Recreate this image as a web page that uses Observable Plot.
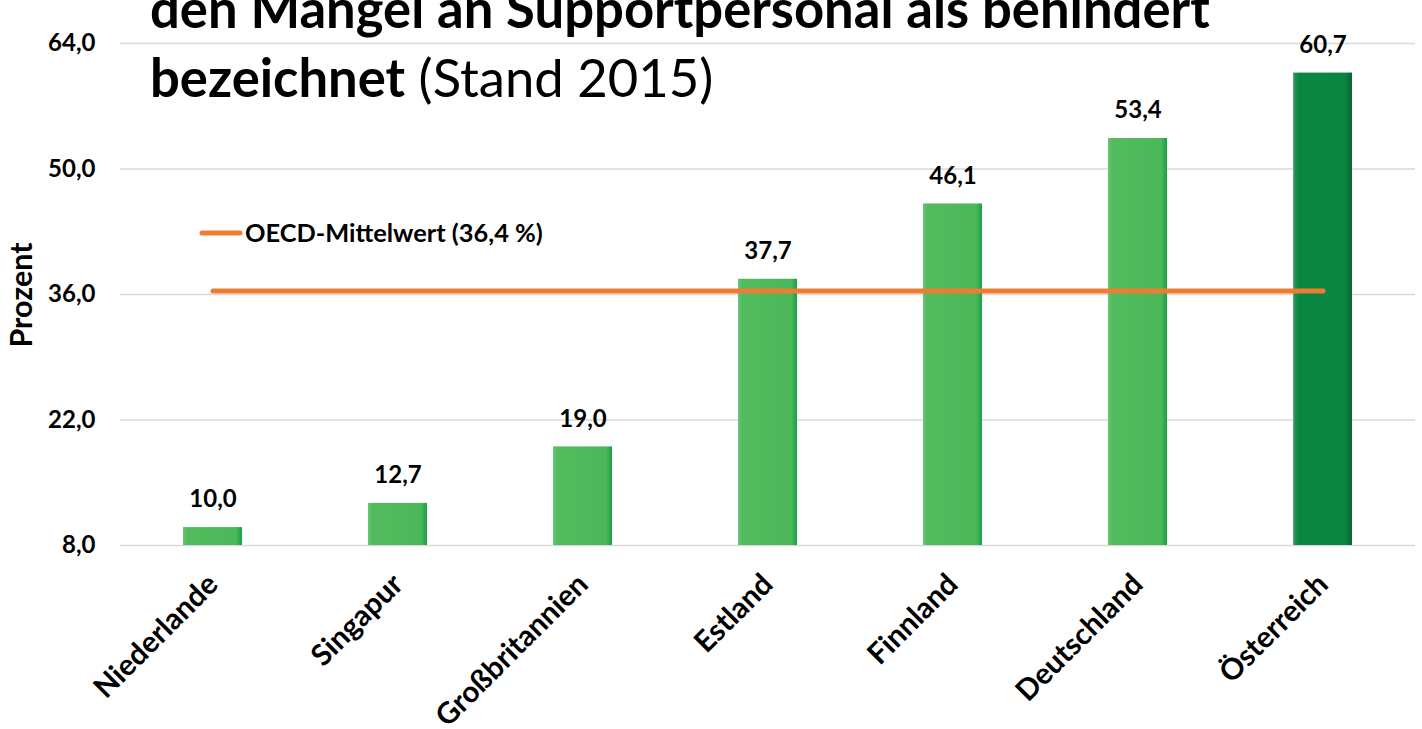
<!DOCTYPE html>
<html><head><meta charset="utf-8">
<script src="https://cdn.jsdelivr.net/npm/d3@7"></script>
<script src="https://cdn.jsdelivr.net/npm/@observablehq/plot@0.6"></script>
<style>
body{margin:0;background:#fff;}
#chart{position:relative;width:1422px;height:729px;overflow:hidden;}
</style></head><body><div id="chart"></div>
<script>
const countries = ["Niederlande","Singapur","Großbritannien","Estland","Finnland","Deutschland","Österreich"];
const values = [10.0, 12.7, 19.0, 37.7, 46.1, 53.4, 60.7];
const highlight = "Österreich";
const oecdMean = 36.4;
const yTicks = [8, 22, 36, 50, 64];
const titleBold1 = "den Mangel an Supportpersonal als behindert";
const titleBold2 = "bezeichnet";
const titleNormal2 = " (Stand 2015)";
const legendLabel = "OECD-Mittelwert (36,4 %)";
const yLabel = "Prozent";

const data = countries.map((c, i) => ({country: c, value: values[i]}));
const fmt = d => d.toFixed(1).replace(".", ",");
const FONT = "Lato, 'Open Sans', sans-serif";

const canvas = document.createElement("canvas");
const ctx = canvas.getContext("2d");
function measure(txt, weight, size) { ctx.font = `${weight} ${size}px Lato`; return ctx.measureText(txt).width; }
function fit(txt, weight, target) { return 100 * target / measure(txt, weight, 100); }

const chart = Plot.plot({
  width: 1422, height: 729,
  marginLeft: 120, marginRight: 7, marginTop: 43, marginBottom: 184,
  style: {fontFamily: FONT, background: "#fff", overflow: "visible", color: "#000"},
  x: {domain: countries, paddingInner: 0.68, paddingOuter: 0.34, label: null},
  y: {domain: [8, 64], ticks: yTicks, label: null},
  marks: [
    Plot.gridY(yTicks, {stroke: "#d9d9d9", strokeOpacity: 1, strokeWidth: 1.3}),
    Plot.barY(data.filter(d => d.country !== highlight), {x: "country", y1: 8, y2: "value", fill: "url(#gLight)"}),
    Plot.barY(data.filter(d => d.country === highlight), {x: "country", y1: 8, y2: "value", fill: "url(#gDark)"}),
    Plot.lineY(countries, {x: d => d, y: () => oecdMean, stroke: "#ed7d31", strokeWidth: 5, strokeLinecap: "round"}),
    Plot.text(data, {x: "country", y: "value", text: d => fmt(d.value), dy: -28, fontSize: 24, fontWeight: "bold", fill: "#000"}),
    Plot.axisY(yTicks, {tickSize: 0, tickPadding: 25, tickFormat: fmt, fontSize: 24, fontWeight: "bold", label: null}),
    Plot.axisX({tickRotate: -45, tickSize: 0, tickPadding: 34, fontSize: 29.5, fontWeight: "bold", label: null})
  ]
});

document.getElementById("chart").appendChild(chart);
const svg = d3.select(chart);
svg.selectAll('g[aria-label="x-axis tick label"] text, g[aria-label="y-axis tick label"] text').attr("font-weight", "bold");

const defs = svg.insert("defs", ":first-child");
function grad(id, stops) {
  const g = defs.append("linearGradient").attr("id", id).attr("x1", 0).attr("x2", 1).attr("y1", 0).attr("y2", 0);
  stops.forEach(([o, c]) => g.append("stop").attr("offset", o).attr("stop-color", c));
}
grad("gLight", [[0, "#6ac673"], [0.07, "#52bb5e"], [0.9, "#4cb85a"], [1, "#1a9f47"]]);
grad("gDark", [[0, "#8a9a90"], [0.03, "#149a4e"], [0.1, "#0b8642"], [0.88, "#0b8442"], [1, "#066530"]]);

const overlay = svg.append("g").attr("text-anchor", "start").attr("font-family", FONT).attr("fill", "#000");

// title (overlaps chart top, first line cut like the reference)
const tSize = fit(titleBold1, "bold", 1060);
overlay.append("text").attr("x", 150).attr("y", 28)
  .attr("font-size", tSize).attr("font-weight", "bold").text(titleBold1);
const t2 = overlay.append("text").attr("x", 150).attr("y", 97).attr("font-size", tSize);
t2.append("tspan").attr("font-weight", "bold").text(titleBold2);
t2.append("tspan").attr("font-weight", "normal").text(titleNormal2);

// legend
overlay.append("line").attr("x1", 202).attr("x2", 240).attr("y1", 233).attr("y2", 233)
  .attr("stroke", "#ed7d31").attr("stroke-width", 5).attr("stroke-linecap", "round");
overlay.append("text").attr("x", 245).attr("y", 242)
  .attr("font-size", fit(legendLabel, "bold", 298)).attr("font-weight", "bold").text(legendLabel);

// y label
overlay.append("text").attr("transform", "translate(20,295) rotate(-90)").attr("text-anchor", "middle")
  .attr("dominant-baseline", "central")
  .attr("font-size", fit(yLabel, "bold", 105)).attr("font-weight", "bold").text(yLabel);
</script>
</body></html>
